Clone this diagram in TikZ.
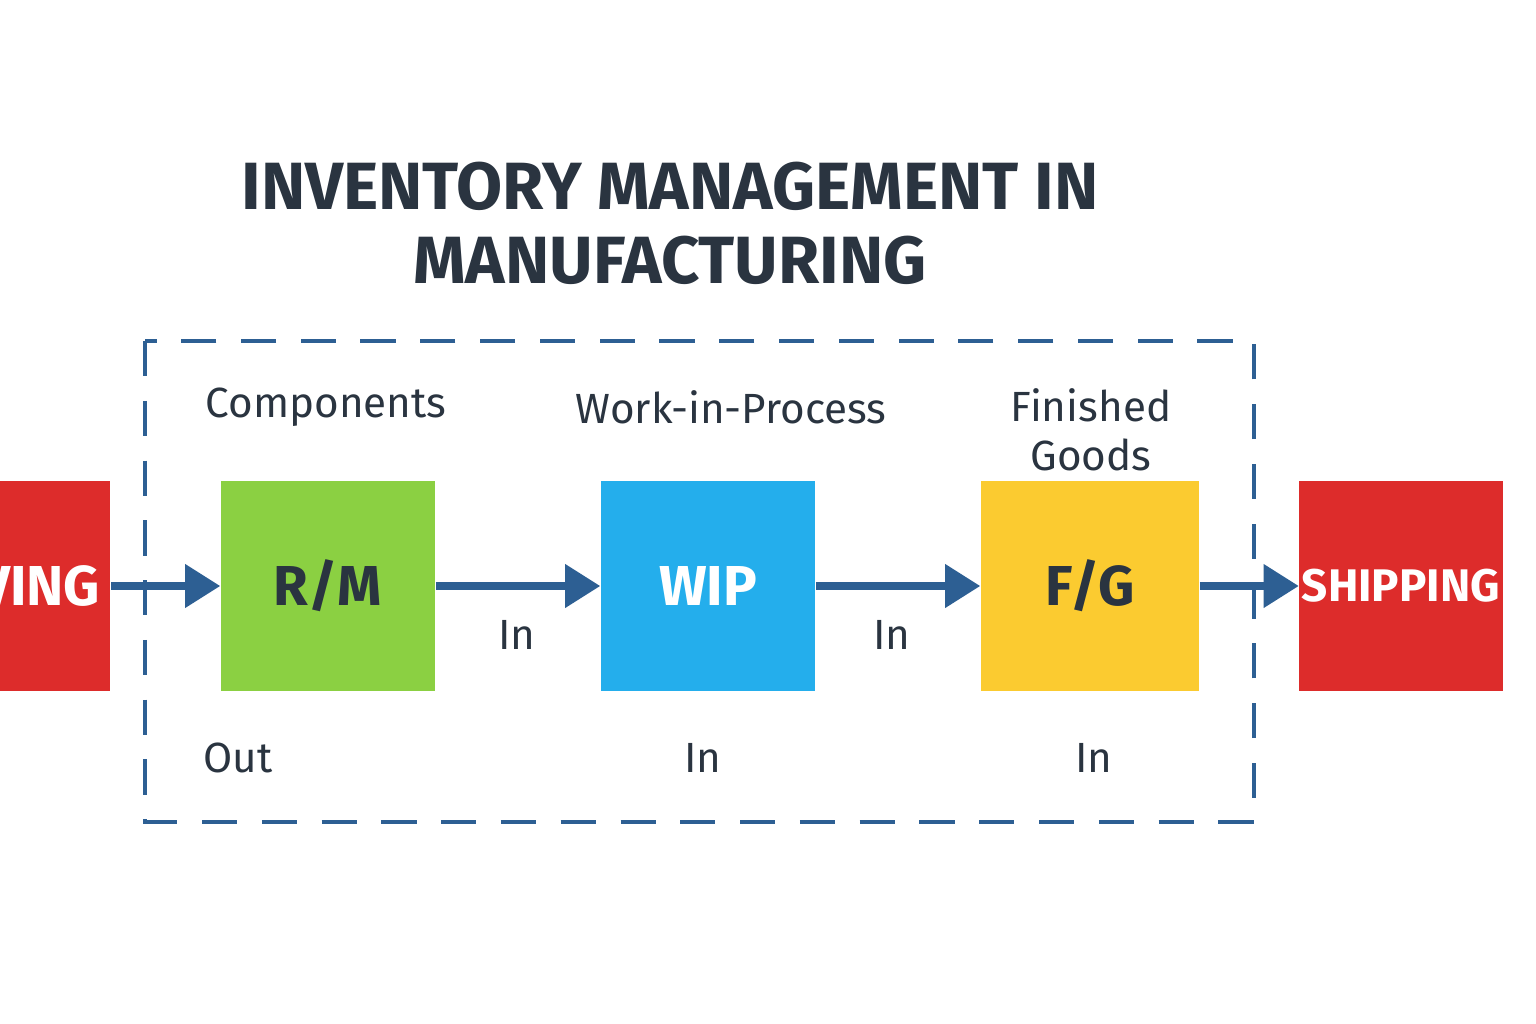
\documentclass[tikz,border=0pt]{standalone}
\usepackage{fontspec}
\setmainfont{Fira Sans}
\usetikzlibrary{arrows.meta,positioning}
\definecolor{ink}{HTML}{2A3440}
\definecolor{flow}{HTML}{2D5F93}
\definecolor{redbox}{HTML}{DD2C2B}
\definecolor{greenbox}{HTML}{8BD042}
\definecolor{bluebox}{HTML}{24AEEC}
\definecolor{yellowbox}{HTML}{FBCB30}
\begin{document}
\begin{tikzpicture}[x=0.01cm,y=-0.01cm]
    \tikzstyle{stage}=[minimum height=2.1cm,inner sep=0,font=\bfseries\fontsize{16}{20}\selectfont]
    \tikzstyle{tag}=[text=ink,font=\fontsize{12}{14}\selectfont,align=center]
    \tikzstyle{flow arrow}=[draw=flow,line width=2pt,-{Triangle[length=10pt,width=12pt]}]

    \useasboundingbox[fill=white] (0,0) rectangle (1536,1024);

    % title
    \node[text=ink,font=\bfseries\fontsize{19}{21}\selectfont,align=center] (title) at (670,223)
        {INVENTORY MANAGEMENT IN\\MANUFACTURING};

    % frame
    \draw[flow,line width=1.3pt,dash pattern=on 10pt off 7pt] (145,341) rectangle (1254,822);

    % stages
    \node[stage,fill=redbox,text=white,anchor=east,text width=3cm,inner xsep=0.1cm,align=right] (recv) at (111,586) {RECEIVING};
    \node[stage,fill=greenbox,text=ink,minimum width=2.14cm] (rm) at (328,586) {R/M};
    \node[stage,fill=bluebox,text=white,minimum width=2.14cm] (wip) at (708,586) {WIP};
    \node[stage,fill=yellowbox,text=ink,minimum width=2.18cm] (fg) at (1090,586) {F/G};
    \node[stage,fill=redbox,text=white,text width=2.03cm,align=center,font=\bfseries\fontsize{13}{16}\selectfont] (ship) at (1401,586) {SHIPPING};

    % flow
    \draw[flow arrow] (recv.east) -- (rm.west);
    \draw[flow arrow] (rm.east) -- (wip.west);
    \draw[flow arrow] (wip.east) -- (fg.west);
    \draw[flow arrow] (fg.east) -- (ship.west);

    % labels
    \node[tag] (comp) at (326,407) {Components};
    \node[tag] (wipl) at (731,407) {Work-in-Process};
    \node[tag] (fgl) at (1091,430) {Finished\\Goods};
    \node[tag] (in1) at (517,635) {In};
    \node[tag] (in2) at (892,635) {In};
    \node[tag] (out) at (238,758) {Out};
    \node[tag] (in3) at (703,758) {In};
    \node[tag] (in4) at (1094,758) {In};
\end{tikzpicture}
\end{document}
